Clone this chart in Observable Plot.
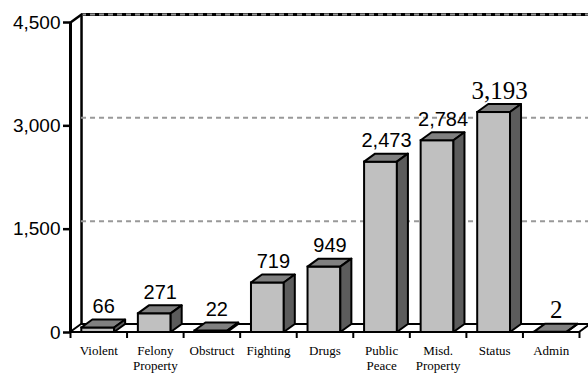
<!DOCTYPE html>
<html>
<head>
<meta charset="utf-8">
<script src="https://cdn.jsdelivr.net/npm/d3@7"></script>
<script src="https://cdn.jsdelivr.net/npm/@observablehq/plot@0.6"></script>
<style>
  html, body { margin: 0; padding: 0; background: #fff; }
</style>
</head>
<body>
<div id="chart"></div>
<script>
const categories = ["Violent", "Felony\nProperty", "Obstruct", "Fighting", "Drugs", "Public\nPeace", "Misd.\nProperty", "Status", "Admin"];
const values = [66, 271, 22, 719, 949, 2473, 2784, 3193, 2];
const yTicks = [0, 1500, 3000, 4500];
const serifLabels = ["Status", "Admin"];

// depth of the 3D effect, in data units
const DX = 0.195;
const DY = 116;
const n = categories.length;

const bars = categories.map((c, i) => ({i, c, v: values[i], x1: i + 0.2, x2: i + 0.78}));
const topFaces = bars.flatMap(b => [
  {i: b.i, y: b.v, x1: b.x1, x2: b.x2},
  {i: b.i, y: b.v + DY, x1: b.x1 + DX, x2: b.x2 + DX}
]);
const sideFaces = bars.flatMap(b => [
  {i: b.i, x: b.x2, y1: 0, y2: b.v},
  {i: b.i, x: b.x2 + DX, y1: DY, y2: b.v + DY}
]);
const floor = [
  {y: 0, x1: 0, x2: n},
  {y: DY, x1: DX, x2: n + DX}
];
const fmt = d3.format(",");
const sans = "'Liberation Sans', Arial, sans-serif";
const serif = "'Liberation Serif', 'Times New Roman', serif";

const chart = Plot.plot({
  width: 588,
  height: 373,
  marginLeft: 70,
  marginRight: 9,
  marginTop: 22,
  marginBottom: 41,
  style: {background: "#fff", color: "#000", overflow: "visible"},
  x: {type: "linear", domain: [0, n]},
  y: {domain: [0, 4500]},
  marks: [
    // back wall top edge
    Plot.ruleY([4500 + DY], {x1: DX, x2: n + 1, stroke: "#000", strokeWidth: 3}),
    // back wall left edge
    Plot.ruleX([DX], {y1: DY, y2: 4500 + DY, stroke: "#000", strokeWidth: 2.5}),
    // gridlines on back wall
    Plot.ruleY(yTicks.filter(d => d > 0), {y: d => d + DY, x1: DX, x2: n + 1, stroke: "#999", strokeWidth: 2, strokeDasharray: "5,4"}),
    // top diagonal of left wall
    Plot.line([{x: 0, y: 4500}, {x: DX, y: 4500 + DY}], {x: "x", y: "y", stroke: "#000", strokeWidth: 2.5}),
    // floor
    Plot.areaX(floor, {y: "y", x1: "x1", x2: "x2", fill: "#fff", stroke: "#000", strokeWidth: 2}),
    // front y axis line
    Plot.ruleX([0], {y1: 0, y2: 4500, stroke: "#000", strokeWidth: 3}),
    // bars: front faces
    Plot.rect(bars, {x1: "x1", x2: "x2", y1: 0, y2: "v", fill: "#c0c0c0", stroke: "#000", strokeWidth: 2}),
    // top faces
    Plot.areaX(topFaces, {y: "y", x1: "x1", x2: "x2", z: "i", fill: "#808080", stroke: "#000", strokeWidth: 2, strokeLinejoin: "round"}),
    // side faces
    Plot.areaY(sideFaces, {x: "x", y1: "y1", y2: "y2", z: "i", fill: "#5c5c5c", stroke: "#000", strokeWidth: 2, strokeLinejoin: "round"}),
    // value labels
    Plot.text(bars.filter(b => !serifLabels.includes(b.c)), {
      x: b => (b.x1 + b.x2 + DX) / 2, y: b => b.v + DY, text: b => fmt(b.v),
      lineAnchor: "bottom", dy: -7, fontSize: 20, fontFamily: sans, fill: "#000"
    }),
    Plot.text(bars.filter(b => serifLabels.includes(b.c)), {
      x: b => (b.x1 + b.x2 + DX) / 2, y: b => b.v + DY, text: b => fmt(b.v),
      lineAnchor: "bottom", dy: -6, fontSize: 25, fontFamily: serif, fill: "#000"
    }),
    // axes
    Plot.axisY({ticks: yTicks, tickFormat: fmt, tickSize: 7, tickPadding: 3, fontSize: 19, fontFamily: sans, strokeWidth: 2.5, label: null}),
    Plot.axisX({ticks: d3.range(n + 1), tickFormat: () => "", tickSize: 6, strokeWidth: 2, label: null}),
    Plot.axisX({ticks: d3.range(n).map(i => i + 0.5), tickFormat: d => categories[Math.floor(d)], tickSize: 0, tickPadding: 11, fontSize: 13, fontFamily: serif, lineHeight: 1.2, label: null})
  ]
});
document.getElementById("chart").append(chart);
</script>
</body>
</html>
